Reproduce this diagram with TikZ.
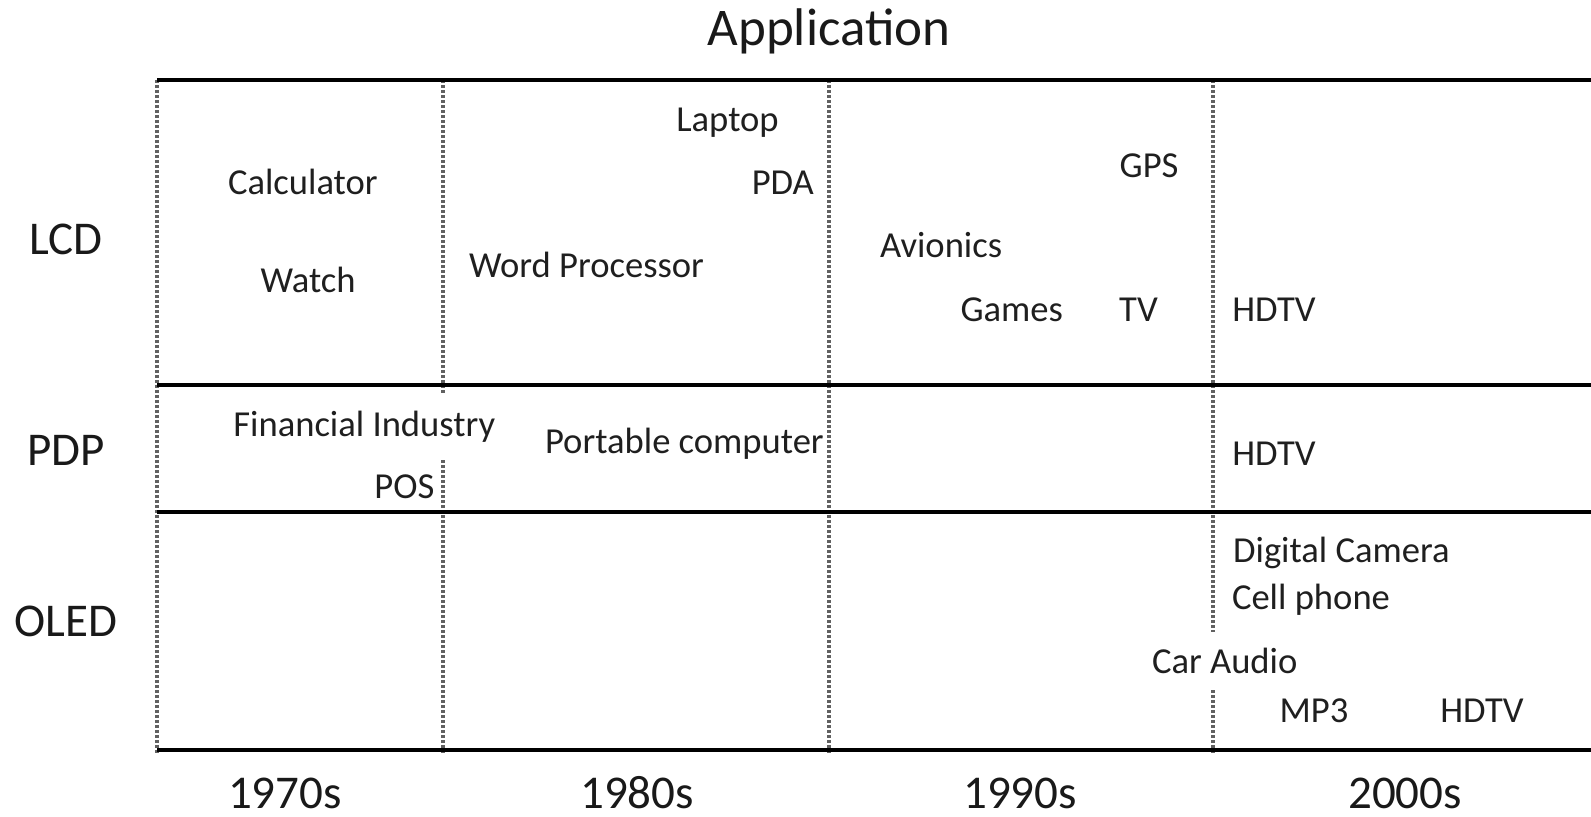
\documentclass[tikz,border=0pt]{standalone}
\usepackage{fontspec}
\setmainfont{Carlito}
\begin{document}
\begin{tikzpicture}[x=0.5pt,y=-0.5pt,
  hline/.style={line width=1.75pt,black},
  vline/.style={line width=1.6pt,draw=black!62,dash pattern=on 1.5pt off 1pt},
  item/.style={anchor=base,inner sep=0pt,text=black!88,font=\fontsize{18.3}{20}\selectfont},
  itemw/.style={item,fill=white,inner xsep=4pt,inner ysep=8pt},
  rowlab/.style={anchor=base,inner sep=0pt,text=black!90,font=\fontsize{23.5}{26}\selectfont},
  ttl/.style={anchor=base,inner sep=0pt,text=black!90,font=\fontsize{26.5}{30}\selectfont}]
\useasboundingbox (0,0) rectangle (1591,816);
% grid coordinates
\coordinate (t0) at (157,80);
\coordinate (t1) at (1591,80);
\coordinate (a0) at (157,385);
\coordinate (a1) at (1591,385);
\coordinate (b0) at (157,512);
\coordinate (b1) at (1591,512);
\coordinate (c0) at (157,750);
\coordinate (c1) at (1591,750);
\foreach \n/\x in {v1/157,v2/443,v3/829,v4/1213}{
  \coordinate (\n t) at (\x,80);
  \coordinate (\n b) at (\x,753);
}
% dashed verticals
\draw[vline] (v1t) -- (v1b);
\draw[vline] (v2t) -- (v2b);
\draw[vline] (v3t) -- (v3b);
\draw[vline] (v4t) -- (v4b);
% horizontal rules
\draw[hline] (t0) -- (t1);
\draw[hline] (a0) -- (a1);
\draw[hline] (b0) -- (b1);
\draw[hline] (c0) -- (c1);
% title and axis labels
\node[ttl] (title) at (829,45.7) {Application};
\node[rowlab] (lcd) at (66,254.5) {LCD};
\node[rowlab] (pdp) at (66,465.5) {PDP};
\node[rowlab] (oled) at (66,636) {OLED};
\node[rowlab] (d70) at (285,808) {1970s};
\node[rowlab] (d80) at (637,808) {1980s};
\node[rowlab] (d90) at (1020,808) {1990s};
\node[rowlab] (d00) at (1405,808) {2000s};
% LCD
\node[item] (laptop) at (727.5,131) {Laptop};
\node[item] (calc) at (302.9,194.8) {Calculator};
\node[item] (pda) at (782.8,194.8) {PDA};
\node[item] (gps) at (1149.1,177.5) {GPS};
\node[item] (avion) at (941.1,257.7) {Avionics};
\node[item] (watch) at (308,292.2) {Watch};
\node[item] (word) at (586.5,277) {Word Processor};
\node[item] (games) at (1011.7,321.6) {Games};
\node[item] (tv) at (1138.5,321.6) {TV};
\node[item] (hdtva) at (1274,321.6) {HDTV};
% PDP
\node[itemw] (fin) at (364.3,436.3) {Financial Industry};
\node[item] (port) at (684.4,453.5) {Portable computer};
\node[item] (pos) at (404.4,498.2) {POS};
\node[item] (hdtvb) at (1274,465.7) {HDTV};
% OLED
\node[item] (cam) at (1341.4,562) {Digital Camera};
\node[item] (cell) at (1311,609.8) {Cell phone};
\node[itemw] (car) at (1224.7,673.7) {Car Audio};
\node[item] (mp3) at (1314,722.4) {MP3};
\node[item] (hdtvc) at (1482,722.4) {HDTV};
\end{tikzpicture}
\end{document}
